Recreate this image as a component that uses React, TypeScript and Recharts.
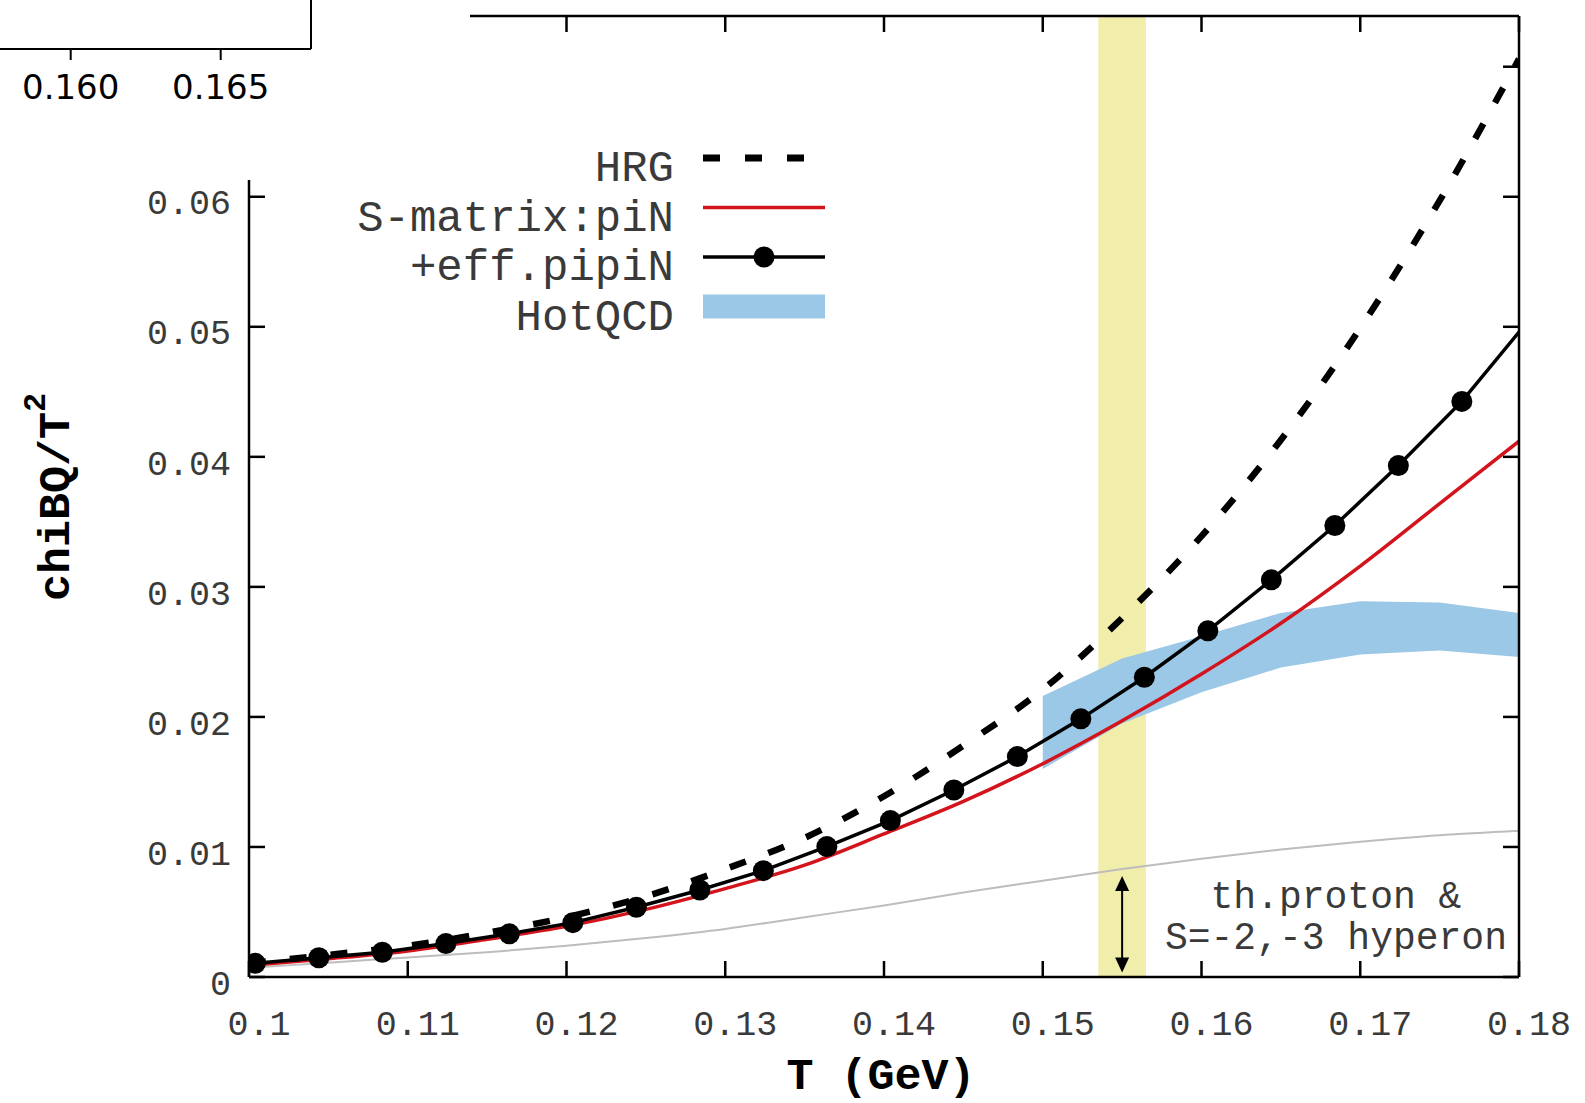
import React from "react";
import {
  Area,
  ComposedChart,
  Legend,
  Line,
  ReferenceArea,
  ReferenceDot,
  ReferenceLine,
  XAxis,
  YAxis,
} from "recharts";

// temperature grid (GeV) for the smooth curves
const tGrid = [0.1, 0.105, 0.11, 0.115, 0.12, 0.125, 0.13, 0.135, 0.14, 0.145, 0.15, 0.155, 0.16, 0.165, 0.17, 0.175, 0.18];
const hrg = [0.00105, 0.0017, 0.0024, 0.0034, 0.0046, 0.0062, 0.0083, 0.0107, 0.0139, 0.0178, 0.0221, 0.0276, 0.0339, 0.0413, 0.0499, 0.0597, 0.0706];
const sMatrixPiN = [0.0009, 0.0014, 0.002, 0.0029, 0.0039, 0.0052, 0.0068, 0.0086, 0.011, 0.0135, 0.0164, 0.0197, 0.0233, 0.0272, 0.0316, 0.0364, 0.0412];
const protonHyperon = [0.0007, 0.0011, 0.0015, 0.0019, 0.0024, 0.003, 0.0037, 0.0046, 0.0055, 0.0065, 0.0074, 0.0083, 0.0091, 0.0098, 0.0104, 0.0109, 0.01125];

// +eff.pipiN: marked points, last entry is the line end (no marker)
const effT = [0.1004, 0.1044, 0.1084, 0.1124, 0.1164, 0.1204, 0.1244, 0.1284, 0.1324, 0.1364, 0.1404, 0.1444, 0.1484, 0.1524, 0.1564, 0.1604, 0.1644, 0.1684, 0.1724, 0.1764, 0.18];
const effV = [0.00105, 0.00148, 0.0019, 0.00257, 0.00332, 0.00418, 0.00536, 0.00669, 0.00818, 0.01003, 0.01203, 0.01438, 0.01695, 0.01985, 0.02305, 0.02662, 0.03054, 0.03472, 0.03933, 0.04426, 0.0496];

// HotQCD band
const qcdT = [0.15, 0.155, 0.16, 0.165, 0.17, 0.175, 0.18];
const qcdLow = [0.016, 0.0195, 0.0219, 0.0238, 0.0248, 0.0251, 0.0246];
const qcdHigh = [0.0216, 0.0245, 0.0262, 0.028, 0.0289, 0.0288, 0.028];

const xTicks = [0.1, 0.11, 0.12, 0.13, 0.14, 0.15, 0.16, 0.17, 0.18];
const xTickLabels = ["0.1", "0.11", "0.12", "0.13", "0.14", "0.15", "0.16", "0.17", "0.18"];
// 0.07 sits under the inset, so only its tick mark shows
const yTicks = [0, 0.01, 0.02, 0.03, 0.04, 0.05, 0.06, 0.07];
const yTickLabels = ["0", "0.01", "0.02", "0.03", "0.04", "0.05", "0.06", ""];

const legendLabels = ["HRG", "S-matrix:piN", "+eff.pipiN", "HotQCD"];
const tcBand = [0.1535, 0.1565];
const arrowT = 0.155;
const arrowRange = [0.00035, 0.00777];
const noteAt = [0.16847, 0.0053];
const noteLines = ["th.proton &", "S=-2,-3 hyperon"];

// cut-off inset in the top-left corner
const insetDomain = [0.15431, 0.16801];
const insetTicks = [0.16, 0.165];
const insetTickLabels = ["0.160", "0.165"];
const insetBand = [0.155, 0.15808];

const curveData = tGrid.map((T, i) => ({ T, hrg: hrg[i], sm: sMatrixPiN[i], th: protonHyperon[i] }));
const effData = effT.map((T, i) => ({ T, v: effV[i] }));
const qcdData = qcdT.map((T, i) => ({ T, band: [qcdLow[i], qcdHigh[i]] }));

const MONO = '"Liberation Mono", "Courier New", monospace';
const AXIS = { stroke: "#000", strokeWidth: 2.5 };
const TEXT = "#3a3a3a";

function XTick({ x, y, payload }: any) {
  const i = xTicks.indexOf(payload.value);
  return (
    <text x={x + 10} y={y} textAnchor="middle" fontFamily={MONO} fontSize={35} fill={TEXT}>
      {xTickLabels[i]}
    </text>
  );
}

function YTick({ x, y, payload }: any) {
  const i = yTicks.indexOf(payload.value);
  if (!yTickLabels[i]) return <g />;
  return (
    <text x={x} y={y + 17.7} textAnchor="end" fontFamily={MONO} fontSize={35} fill={TEXT}>
      {yTickLabels[i]}
    </text>
  );
}

const NoLabel = () => <g />;

function InsetTick({ x, y, payload }: any) {
  const i = insetTicks.indexOf(payload.value);
  return (
    <text x={x} y={y} textAnchor="middle" fontFamily='"DejaVu Sans", sans-serif' fontSize={34} fill="#000">
      {insetTickLabels[i]}
    </text>
  );
}

function EffDot(props: any) {
  const { cx, cy, index } = props;
  if (index === effT.length - 1) return <g key={`d${index}`} />;
  return <circle key={`d${index}`} cx={cx} cy={cy} r={10.5} fill="#000" />;
}

function Arrow(props: any) {
  const { x1, y1, x2, y2 } = props;
  const top = Math.min(y1, y2);
  const bot = Math.max(y1, y2);
  const x = (x1 + x2) / 2;
  return (
    <g>
      <line x1={x} x2={x} y1={top + 12} y2={bot - 12} stroke="#000" strokeWidth={2} />
      <polygon points={`${x},${top} ${x - 7},${top + 15} ${x + 7},${top + 15}`} fill="#000" />
      <polygon points={`${x},${bot} ${x - 7},${bot - 15} ${x + 7},${bot - 15}`} fill="#000" />
    </g>
  );
}

function Note(props: any) {
  const { cx, cy } = props;
  return (
    <g>
      {noteLines.map((s, i) => (
        <text key={s} x={cx} y={cy + i * 41} textAnchor="middle" fontFamily={MONO} fontSize={38} fill={TEXT} style={{ whiteSpace: "pre" }}>
          {s}
        </text>
      ))}
    </g>
  );
}

function LegendBox() {
  return (
    <svg width={500} height={200} style={{ display: "block", overflow: "visible" }}>
      {legendLabels.map((label, i) => {
        const y = 28 + i * 49.5;
        return (
          <g key={label}>
            <text x={334} y={y + 23} textAnchor="end" fontFamily={MONO} fontSize={44} fill={TEXT}>
              {label}
            </text>
            {i === 0 && <line x1={363} x2={465} y1={y} y2={y} stroke="#000" strokeWidth={7} strokeDasharray="17 25" />}
            {i === 1 && <line x1={363} x2={485} y1={y} y2={y} stroke="#d3141c" strokeWidth={3.5} />}
            {i === 2 && (
              <g>
                <line x1={363} x2={485} y1={y} y2={y} stroke="#000" strokeWidth={3.5} />
                <circle cx={424} cy={y} r={10.5} fill="#000" />
              </g>
            )}
            {i === 3 && <rect x={363} y={y - 12} width={122} height={24} fill="#9bc8e6" />}
          </g>
        );
      })}
    </svg>
  );
}

function YTitle() {
  return (
    <text
      x={69}
      y={497}
      transform="rotate(-90, 69, 497)"
      textAnchor="middle"
      fontFamily={MONO}
      fontWeight="bold"
      fontSize={45}
      fill="#000"
    >
      chiBQ/T
      <tspan fontSize={32} dy={-24}>2</tspan>
    </text>
  );
}

function XTitle() {
  return (
    <text x={881} y={1089} textAnchor="middle" fontFamily={MONO} fontWeight="bold" fontSize={45} fill="#000" style={{ whiteSpace: "pre" }}>
      T (GeV)
    </text>
  );
}

function Inset() {
  return (
    <div style={{ position: "absolute", left: 0, top: 0, width: 470, height: 180, background: "#fff", overflow: "hidden", zIndex: 2 }}>
      <div style={{ position: "absolute", left: -100, top: -100 }}>
        <ComposedChart width={412} height={209} margin={{ top: 0, right: 0, bottom: 0, left: 0 }}>
          <XAxis
            type="number"
            dataKey="T"
            domain={insetDomain}
            allowDataOverflow
            ticks={insetTicks}
            interval={0}
            height={60}
            tickSize={11}
            tickMargin={39}
            tick={<InsetTick />}
            axisLine={{ stroke: "#000", strokeWidth: 2 }}
            tickLine={{ stroke: "#000", strokeWidth: 2 }}
          />
          <YAxis orientation="right" width={1} domain={[0, 1]} tick={false} tickLine={false} axisLine={{ stroke: "#000", strokeWidth: 2 }} />
          <ReferenceArea x1={insetBand[0]} x2={insetBand[1]} fill="#f6f61e" fillOpacity={1} stroke="none" ifOverflow="hidden" />
        </ComposedChart>
      </div>
    </div>
  );
}

export default function App() {
  return (
    <div style={{ position: "absolute", left: 0, top: 0, width: 1585, height: 1103, background: "#fff" }}>
      <div style={{ position: "absolute", left: 0, top: 0 }}>
        <ComposedChart width={1585} height={1103} margin={{ top: 6, right: 36, bottom: 66, left: 189 }}>
          <XAxis
            type="number"
            dataKey="T"
            domain={[0.1, 0.18]}
            allowDataOverflow
            ticks={xTicks}
            interval={0}
            height={60}
            tickSize={-16}
            tickMargin={74}
            tick={<XTick />}
            axisLine={AXIS}
            tickLine={AXIS}
            label={{ content: () => <XTitle /> }}
          />
          <XAxis
            xAxisId="top"
            orientation="top"
            type="number"
            dataKey="T"
            domain={[0.1, 0.18]}
            allowDataOverflow
            ticks={xTicks}
            interval={0}
            height={10}
            tickSize={-16}
            tick={<NoLabel />}
            axisLine={AXIS}
            tickLine={AXIS}
          />
          <YAxis
            type="number"
            domain={[0, 0.0739]}
            allowDataOverflow
            ticks={yTicks}
            interval={0}
            width={60}
            tickSize={-16}
            tickMargin={34}
            tick={<YTick />}
            axisLine={AXIS}
            tickLine={AXIS}
            label={{ content: () => <YTitle /> }}
          />
          <YAxis
            yAxisId="right"
            orientation="right"
            type="number"
            domain={[0, 0.0739]}
            allowDataOverflow
            ticks={yTicks}
            interval={0}
            width={30}
            tickSize={-16}
            tick={<NoLabel />}
            axisLine={AXIS}
            tickLine={AXIS}
          />
          <ReferenceArea x1={tcBand[0]} x2={tcBand[1]} fill="#f1eeab" fillOpacity={1} stroke="none" />
          <Area
            data={qcdData}
            dataKey="band"
            name="HotQCD"
            type="linear"
            stroke="none"
            fill="#9bc8e6"
            fillOpacity={1}
            isAnimationActive={false}
          />
          <Line data={curveData} dataKey="th" type="monotone" stroke="#bdbdbd" strokeWidth={2} dot={false} isAnimationActive={false} legendType="none" />
          <Line data={curveData} dataKey="sm" name="S-matrix:piN" type="monotone" stroke="#d3141c" strokeWidth={3.5} dot={false} isAnimationActive={false} />
          <Line
            data={curveData}
            dataKey="hrg"
            name="HRG"
            type="monotone"
            stroke="#000"
            strokeWidth={6.5}
            strokeDasharray="17 24"
            dot={false}
            isAnimationActive={false}
          />
          <Line data={effData} dataKey="v" name="+eff.pipiN" type="linear" stroke="#000" strokeWidth={3.5} dot={EffDot} isAnimationActive={false} />
          <ReferenceLine
            segment={[
              { x: arrowT, y: arrowRange[0] },
              { x: arrowT, y: arrowRange[1] },
            ]}
            shape={(p: any) => <Arrow {...p} />}
          />
          <ReferenceDot x={noteAt[0]} y={noteAt[1]} shape={(p: any) => <Note {...p} />} />
          <Legend
            layout="vertical"
            align="center"
            verticalAlign="middle"
            content={() => <LegendBox />}
            wrapperStyle={{ left: 340, top: 130, width: 500, height: 200 }}
          />
        </ComposedChart>
      </div>
      <Inset />
    </div>
  );
}
